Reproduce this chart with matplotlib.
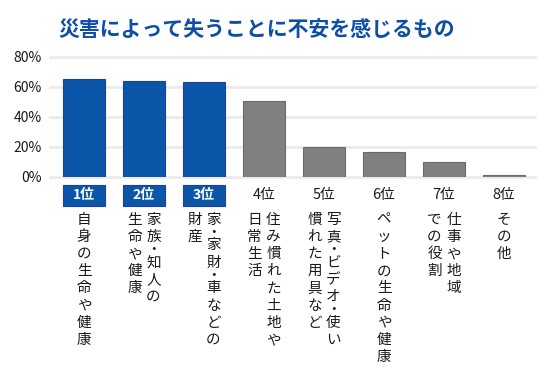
import matplotlib.pyplot as plt
from matplotlib.patches import Rectangle

plt.rcParams['font.family'] = ['Noto Sans CJK JP', 'DejaVu Sans']

title = "災害によって失うことに不安を感じるもの"
ranks = ["1位", "2位", "3位", "4位", "5位", "6位", "7位", "8位"]
values = [65.3, 64.2, 63.3, 50.9, 20.2, 16.4, 9.8, 1.5]
# each label as columns of vertical text, first column is the rightmost
labels = [
    ["自身の生命や健康"],
    ["家族・知人の", "生命や健康"],
    ["家・家財・車などの", "財産"],
    ["住み慣れた土地や", "日常生活"],
    ["写真・ビデオ・使い", "慣れた用具など"],
    ["ペットの生命や健康"],
    ["仕事や地域", "での役割"],
    ["その他"],
]
yticks = [0, 20, 40, 60, 80]
n_top = 3

blue = "#0b56a8"
blue_edge = "#1d3f9e"
gray = "#808080"
gray_edge = "#6b6b6b"
text_color = "#1a1a1a"

fig = plt.figure(figsize=(5.5, 3.75), dpi=100)
W, H = 550, 375
ax = fig.add_axes([50 / W, 1 - 177 / H, 485 / W, 120 / H])

x = list(range(len(values)))
colors = [blue if i < n_top else gray for i in x]
edges = [blue_edge if i < n_top else gray_edge for i in x]
ax.bar(x, values, width=0.7, color=colors, edgecolor=edges, linewidth=0.8, zorder=3)

ax.set_xlim(-0.567, 7.517)
ax.set_ylim(0, 80)
ax.set_yticks(yticks)
ax.set_yticklabels([f"{t}%" for t in yticks], fontsize=10, color=text_color)
ax.set_xticks([])
ax.tick_params(axis="y", length=0, pad=6)
for s in ax.spines.values():
    s.set_visible(False)
for t in yticks:
    ax.axhline(t, color="#ebebeb", linewidth=2, zorder=1, clip_on=False)

trans = ax.get_xaxis_transform()
px = 1 / 120  # one pixel in axes-y units (axes is 120 px tall)
cell = 17.2   # vertical advance of one character, px


def vertical_text(xpos, top, s):
    # stack characters top to bottom, middle dot takes half a cell
    y = top
    for ch in s:
        step = cell / 2 if ch == "・" else cell
        ax.text(xpos, -(y + step / 2) * px, ch, transform=trans, ha="center",
                va="center", fontsize=10.5, color=text_color)
        y += step


for i, (rank, cols) in enumerate(zip(ranks, labels)):
    if i < n_top:
        ax.add_patch(Rectangle((i - 0.35, -29 * px), 0.7, 21 * px, transform=trans,
                               facecolor=blue, edgecolor=blue_edge, linewidth=0.8,
                               clip_on=False, zorder=3))
        ax.text(i, -18.5 * px, rank, transform=trans, ha="center", va="center",
                fontsize=10, fontweight="bold", color="white", zorder=4)
    else:
        ax.text(i, -18.5 * px, rank, transform=trans, ha="center", va="center",
                fontsize=10.5, color=text_color)
    ncol = len(cols)
    for j, col in enumerate(cols):
        off = 0 if ncol == 1 else (0.158 if j == 0 else -0.158)
        vertical_text(i + off, 34, col)

fig.text(58 / W, 1 - 29 / H, title, ha="left", va="center", fontsize=15,
         fontweight="bold", color="#0d4ea6")

fig.savefig("out.png", dpi=100, facecolor="white")
